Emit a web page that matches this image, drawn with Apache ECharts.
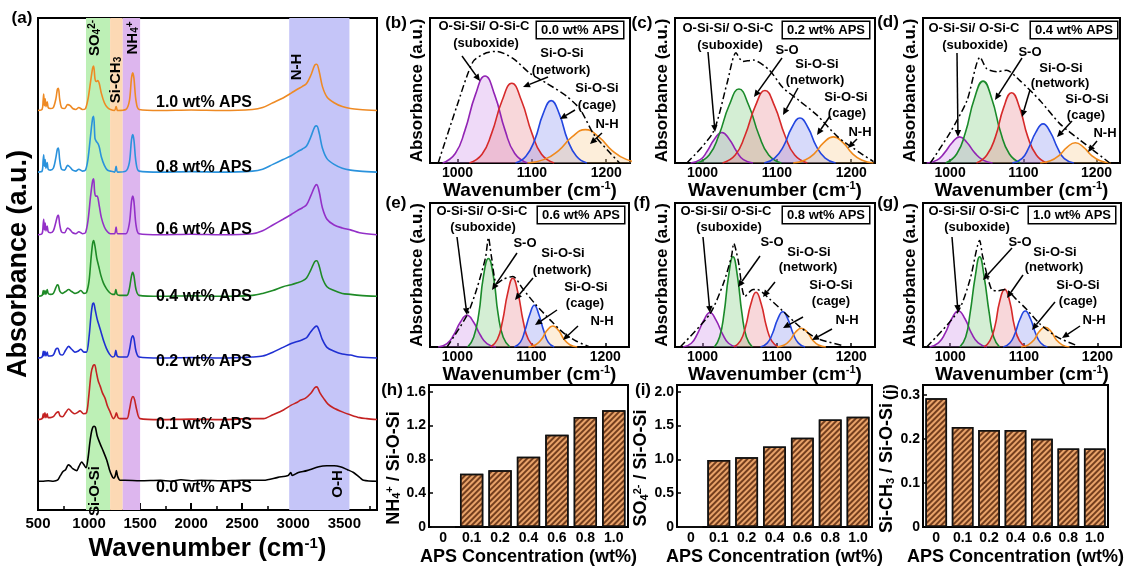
<!DOCTYPE html>
<html>
<head>
<meta charset="utf-8">
<title>FTIR APS</title>
<script src="https://cdn.jsdelivr.net/npm/echarts@6/dist/echarts.min.js"></script>
<style>
html, body { margin: 0; padding: 0; background: #fff; }
#main { width: 1126px; height: 567px; }
</style>
</head>
<body>
<div id="main"></div>
<script>
// ===== 数据 (a) FTIR 全谱, 每条为 [波数, 相对基线的吸光度] =====
var apsNames = ['0.0 wt% APS', '0.1 wt% APS', '0.2 wt% APS', '0.4 wt% APS', '0.6 wt% APS', '0.8 wt% APS', '1.0 wt% APS'];
var apsColors = ['#000000', '#c42222', '#1f2fd2', '#1e8a26', '#9330c8', '#2a92dc', '#ee8a24'];
var specOffset = [30, 94, 158, 222, 286, 351, 415]; // 堆叠偏移

var spec00 = [[500,0],[540,0],[600,0.5],[650,0],[690,1],[720,6],[745,10],[770,12],[797,17],[815,16],[840,13],[879,11],[900,15],[928,20],[950,17],[970,14],[990,24],[1010,42],[1030,54],[1050,57],[1062,56],[1080,47],[1108,39],[1140,31],[1173,22],[1200,12],[1222,6],[1240,3],[1255,5],[1268,11],[1280,5],[1304,1],[1350,1],[1500,0.5],[1700,1],[1800,0],[1900,1.5],[2000,0.5],[2100,1],[2300,0.5],[2500,1],[2650,1],[2709,1],[2850,4],[2950,6],[2975,9],[2990,6],[3050,9],[3133,11],[3250,15],[3329,16],[3400,16],[3460,15],[3530,12],[3590,9],[3650,4],[3688,1],[3820,0]];
var spec01 = [[500,0],[540,1],[552,6],[558,2],[568,7],[578,2],[590,6],[600,2],[620,2],[650,3],[680,7],[700,8],[715,4],[740,3],[770,7],[800,11],[830,8],[860,6],[880,7],[912,9],[945,6],[975,7],[995,22],[1020,48],[1040,56],[1055,57],[1070,50],[1090,40],[1108,35],[1130,28],[1157,22],[1180,14],[1206,8],[1238,1],[1255,3],[1268,7],[1285,2],[1304,1],[1370,1],[1395,10],[1415,21],[1430,24],[1445,21],[1467,10],[1500,1],[1700,0],[2000,0.5],[2300,0],[2600,1],[2709,1],[2800,5],[2904,10],[2980,15],[3040,18],[3068,20],[3117,22],[3170,27],[3210,33],[3231,34],[3260,28],[3297,22],[3340,16],[3395,12],[3480,8],[3558,5],[3650,2],[3721,1],[3820,0]];
var spec02 = [[500,0],[540,1],[552,7],[558,2],[568,7],[578,2],[590,6],[600,2],[620,2],[650,3],[675,9],[690,10],[700,9],[715,4],[740,3],[770,8],[800,12],[830,9],[860,6],[890,7],[920,9],[950,6],[975,6],[1000,22],[1020,45],[1035,56],[1045,57],[1060,50],[1080,40],[1100,33],[1120,26],[1145,17],[1170,10],[1200,4],[1230,1],[1250,2],[1262,8],[1275,2],[1300,1],[1370,1],[1395,8],[1415,20],[1428,23],[1440,20],[1460,7],[1490,1],[1700,0],[2000,0.5],[2300,0],[2600,1],[2700,2],[2800,6],[2900,11],[2980,15],[3040,17],[3090,19],[3130,21],[3170,27],[3210,32],[3230,33],[3255,28],[3285,19],[3330,11],[3400,7],[3480,4],[3560,3],[3650,1],[3820,0]];
var spec04 = [[500,0],[540,1],[552,6],[558,2],[568,6],[578,2],[590,7],[600,3],[620,2],[650,3],[675,9],[690,12],[700,11],[715,5],[740,3],[770,5],[800,7],[830,5],[860,3],[890,4],[920,6],[950,3],[975,4],[1000,16],[1020,40],[1035,55],[1045,58],[1058,52],[1075,40],[1095,31],[1115,22],[1140,14],[1170,8],[1200,4],[1230,2],[1250,2],[1262,7],[1275,2],[1300,1],[1370,1],[1395,8],[1415,21],[1428,25],[1440,21],[1460,7],[1490,1],[1700,0],[2000,0.5],[2300,0],[2600,1],[2700,3],[2800,6],[2900,10],[2980,12],[3040,14],[3090,16],[3130,19],[3170,27],[3210,36],[3230,37],[3255,31],[3285,19],[3330,10],[3400,6],[3480,3],[3560,2],[3650,1],[3820,0]];
var spec06 = [[500,0],[540,1],[550,10],[556,16],[562,5],[570,12],[578,4],[590,9],[600,3],[620,2],[650,4],[675,13],[690,19],[700,20],[712,11],[730,3],[760,2],[790,7],[815,5],[840,2],[870,1],[900,3],[935,1],[965,2],[990,15],[1015,40],[1035,56],[1045,58],[1055,44],[1068,40],[1080,40],[1100,30],[1120,18],[1150,8],[1180,3],[1210,1],[1250,1],[1265,8],[1280,1],[1360,1],[1395,12],[1415,34],[1428,40],[1440,34],[1460,10],[1490,1],[1700,0],[2000,0.5],[2300,0],[2600,1],[2700,4],[2800,10],[2900,16],[2980,21],[3040,25],[3090,28],[3130,31],[3170,40],[3210,50],[3230,52],[3255,44],[3285,28],[3330,16],[3400,10],[3480,7],[3560,5],[3650,2],[3820,0]];
var spec08 = [[500,0],[540,1],[550,12],[556,18],[562,6],[570,13],[578,4],[590,10],[600,3],[620,2],[650,4],[675,15],[690,24],[700,25],[712,13],[730,3],[760,2],[790,7],[815,5],[840,2],[870,1],[900,3],[935,1],[965,2],[990,14],[1015,38],[1035,56],[1045,58],[1058,35],[1070,32],[1085,30],[1100,26],[1120,16],[1150,7],[1180,2],[1210,1],[1250,0],[1265,6],[1280,0],[1360,1],[1395,10],[1415,33],[1428,39],[1440,33],[1460,10],[1490,1],[1700,0],[2000,0.5],[2300,0],[2600,1],[2700,3],[2800,8],[2900,13],[2980,17],[3040,21],[3090,24],[3130,27],[3170,36],[3210,47],[3230,48],[3255,40],[3285,25],[3330,14],[3400,8],[3480,4],[3560,2],[3650,1],[3820,0]];
var spec10 = [[500,0],[540,1],[550,10],[556,17],[562,5],[570,12],[578,4],[590,9],[600,3],[620,2],[650,3],[675,12],[690,22],[700,23],[712,12],[730,3],[760,2],[790,6],[815,5],[840,2],[870,1],[900,3],[935,1],[965,2],[990,12],[1015,30],[1035,44],[1045,46],[1058,33],[1070,30],[1085,31],[1100,28],[1120,18],[1150,8],[1180,3],[1210,1],[1250,0],[1265,4],[1280,0],[1360,1],[1395,10],[1415,33],[1428,39],[1440,33],[1460,10],[1490,1],[1700,0],[2000,0.5],[2300,0],[2600,1],[2700,3],[2800,8],[2900,13],[2980,18],[3040,22],[3090,25],[3130,28],[3170,36],[3210,47],[3230,48],[3255,40],[3285,25],[3330,14],[3400,8],[3480,4],[3560,2],[3650,1],[3820,0]];

// 特征吸收带 [起, 止]
var bandSO4 = [970, 1206];
var bandSiCH3 = [1206, 1330];
var bandNH4 = [1330, 1500];
var bandNH = [2960, 3550];

// ===== 数据 (b)-(g) 分峰拟合, [波数, 吸光度] =====
var bSuboxide = [[980,0],[997,0.066],[1010,0.225],[1024,0.47],[1037,0.60],[1050,0.47],[1064,0.225],[1077,0.066],[1094,0]];
var bNetwork = [[1016,0],[1033,0.061],[1046,0.206],[1060,0.431],[1073,0.55],[1086,0.431],[1100,0.206],[1113,0.061],[1130,0]];
var bCage = [[1078,0],[1092,0.047],[1104,0.161],[1115,0.337],[1126,0.43],[1137,0.337],[1148,0.161],[1160,0.047],[1174,0]];
var bNH = [[1094,0],[1117,0.025],[1136,0.086],[1154,0.18],[1172,0.23],[1190,0.18],[1208,0.086],[1227,0.025],[1250,0]];
var bEnvelope = [[974,0],[999,0.39],[1021,0.70],[1039,0.76],[1053,0.77],[1075,0.72],[1097,0.62],[1120,0.55],[1147,0.46],[1165,0.37],[1183,0.20],[1205,0.07],[1218,0]];

var cSuboxide = [[984,0],[997,0.023],[1006,0.079],[1016,0.164],[1026,0.21],[1036,0.164],[1046,0.079],[1055,0.023],[1068,0]];
var cSO = [[992,0],[1009,0.056],[1022,0.191],[1036,0.40],[1049,0.51],[1062,0.40],[1076,0.191],[1089,0.056],[1106,0]];
var cNetwork = [[1027,0],[1044,0.055],[1057,0.188],[1071,0.392],[1084,0.50],[1097,0.392],[1111,0.188],[1124,0.055],[1141,0]];
var cCage = [[1083,0],[1097,0.034],[1109,0.116],[1120,0.243],[1131,0.31],[1142,0.243],[1153,0.116],[1165,0.034],[1179,0]];
var cNH = [[1122,0],[1138,0.02],[1151,0.068],[1163,0.141],[1176,0.18],[1189,0.141],[1201,0.068],[1214,0.02],[1230,0]];
var cEnvelope = [[979,0],[1014,0.21],[1033,0.55],[1045,0.76],[1054,0.70],[1068,0.71],[1090,0.64],[1108,0.52],[1130,0.43],[1154,0.33],[1182,0.18],[1212,0.07],[1230,0.01]];

var dSuboxide = [[968,0],[982,0.02],[992,0.068],[1003,0.141],[1013,0.18],[1023,0.141],[1034,0.068],[1045,0.02],[1058,0]];
var dSO = [[994,0],[1009,0.062],[1021,0.212],[1033,0.442],[1045,0.565],[1057,0.442],[1069,0.212],[1081,0.062],[1096,0]];
var dNetwork = [[1036,0],[1050,0.053],[1062,0.182],[1073,0.38],[1084,0.485],[1095,0.38],[1106,0.182],[1118,0.053],[1132,0]];
var dCage = [[1085,0],[1098,0.03],[1107,0.101],[1117,0.211],[1127,0.27],[1137,0.211],[1147,0.101],[1156,0.03],[1169,0]];
var dNH = [[1123,0],[1137,0.015],[1149,0.053],[1160,0.11],[1171,0.14],[1182,0.11],[1193,0.053],[1205,0.015],[1219,0]];
var dEnvelope = [[973,0],[1000,0.21],[1023,0.43],[1041,0.73],[1050,0.65],[1064,0.63],[1077,0.64],[1095,0.57],[1123,0.43],[1150,0.27],[1177,0.16],[1200,0.07],[1218,0]];

var eSuboxide = [[974,0],[986,0.024],[995,0.083],[1004,0.172],[1013,0.22],[1022,0.172],[1031,0.083],[1040,0.024],[1052,0]];
var eSO = [[1014,0],[1022,0.068],[1029,0.231],[1035,0.482],[1042,0.615],[1049,0.482],[1055,0.231],[1062,0.068],[1071,0]];
var eNetwork = [[1045,0],[1054,0.052],[1061,0.179],[1068,0.373],[1075,0.477],[1082,0.373],[1089,0.179],[1096,0.052],[1105,0]];
var eCage = [[1077,0],[1085,0.032],[1091,0.109],[1098,0.227],[1104,0.29],[1110,0.227],[1117,0.109],[1123,0.032],[1131,0]];
var eNH = [[1096,0],[1106,0.016],[1114,0.055],[1121,0.114],[1129,0.146],[1137,0.114],[1144,0.055],[1152,0.016],[1162,0]];
var eEnvelope = [[986,0],[1013,0.22],[1026,0.40],[1038,0.62],[1042,0.76],[1046,0.63],[1053,0.44],[1062,0.47],[1075,0.49],[1089,0.40],[1105,0.30],[1125,0.19],[1143,0.10],[1161,0.04],[1179,0]];

var fSuboxide = [[974,0],[985,0.026],[993,0.09],[1002,0.188],[1010,0.24],[1018,0.188],[1027,0.09],[1035,0.026],[1046,0]];
var fSO = [[1016,0],[1023,0.069],[1029,0.235],[1035,0.491],[1041,0.627],[1047,0.491],[1053,0.235],[1059,0.069],[1067,0]];
var fNetwork = [[1042,0],[1051,0.042],[1058,0.143],[1065,0.298],[1072,0.38],[1079,0.298],[1086,0.143],[1093,0.042],[1102,0]];
var fCage = [[1078,0],[1087,0.027],[1094,0.092],[1101,0.192],[1108,0.245],[1115,0.192],[1122,0.092],[1129,0.027],[1138,0]];
var fNH = [[1100,0],[1110,0.014],[1118,0.049],[1125,0.102],[1133,0.13],[1141,0.102],[1148,0.049],[1156,0.014],[1166,0]];
var fEnvelope = [[970,0],[1010,0.23],[1028,0.44],[1039,0.63],[1042,0.72],[1048,0.60],[1057,0.35],[1068,0.40],[1073,0.40],[1091,0.33],[1108,0.25],[1131,0.14],[1154,0.06],[1189,0.01]];

var gSuboxide = [[972,0],[984,0.028],[993,0.094],[1002,0.196],[1011,0.25],[1020,0.196],[1029,0.094],[1038,0.028],[1050,0]];
var gSO = [[1013,0],[1021,0.069],[1027,0.235],[1034,0.491],[1040,0.627],[1046,0.491],[1053,0.235],[1059,0.069],[1067,0]];
var gNetwork = [[1046,0],[1054,0.044],[1061,0.15],[1067,0.313],[1074,0.40],[1081,0.313],[1087,0.15],[1094,0.044],[1103,0]];
var gCage = [[1072,0],[1081,0.028],[1088,0.094],[1095,0.196],[1102,0.25],[1109,0.196],[1116,0.094],[1123,0.028],[1132,0]];
var gNH = [[1096,0],[1106,0.015],[1114,0.051],[1121,0.107],[1129,0.137],[1137,0.107],[1144,0.051],[1152,0.015],[1162,0]];
var gEnvelope = [[968,0],[1011,0.25],[1027,0.47],[1040,0.74],[1044,0.63],[1056,0.40],[1065,0.39],[1074,0.40],[1090,0.33],[1104,0.26],[1122,0.16],[1145,0.07],[1172,0.01]];

// ===== 数据 (h)-(j) 峰面积比 =====
var apsConc = ['0', '0.1', '0.2', '0.4', '0.6', '0.8', '1.0'];
var ratioNH4 = [0, 0.63, 0.67, 0.83, 1.09, 1.30, 1.38];
var ratioSO4 = [0, 0.99, 1.03, 1.19, 1.32, 1.59, 1.63];
var ratioSiCH3 = [0.292, 0.227, 0.22, 0.22, 0.20, 0.178, 0.178];
var ticksNH4 = [0, 0.4, 0.8, 1.2, 1.6];
var ticksSO4 = [0, 0.5, 1.0, 1.5, 2.0];
var ticksSiCH3 = [0, 0.1, 0.2, 0.3];
var ticksWave = [1000, 1100, 1200];

var FONT = '"Liberation Sans", Arial, sans-serif';
var peakStyle = {
	suboxide: ['#9224b4', 'rgba(206,140,232,0.45)'],
	so: ['#1a8a2a', 'rgba(120,200,120,0.45)'],
	network: ['#d62a2a', 'rgba(232,130,140,0.45)'],
	cage: ['#2346e0', 'rgba(130,140,240,0.45)'],
	nh: ['#f08a1c', 'rgba(250,200,140,0.45)']
};

var FtirFigure = {
	chart: null,
	series: [],
	graphic: [],
	grids: [
		{ left: 38, top: 18, width: 339, height: 511 },   // a
		{ left: 430, top: 18, width: 200, height: 145 },  // b
		{ left: 675, top: 18, width: 200, height: 145 },  // c
		{ left: 923, top: 18, width: 197, height: 145 },  // d
		{ left: 430, top: 203, width: 199, height: 144 }, // e
		{ left: 675, top: 203, width: 200, height: 144 }, // f
		{ left: 923, top: 203, width: 198, height: 144 }, // g
		{ left: 429, top: 385, width: 199, height: 145 }, // h
		{ left: 677, top: 385, width: 195, height: 145 }, // i
		{ left: 923, top: 385, width: 197, height: 145 }  // j
	],

	init: function() {
		this.chart = echarts.init(document.getElementById('main'), null, { renderer: 'canvas' });
		this.buildSpectra();
		this.buildFits();
		this.buildBars();
		this.buildLabels();
		this.chart.setOption({
			animation: false,
			backgroundColor: '#fff',
			textStyle: { fontFamily: FONT },
			grid: this.grids.map(function(g) {
				return { left: g.left, top: g.top, width: g.width, height: g.height, show: true, borderColor: '#000', borderWidth: 2, backgroundColor: 'transparent' };
			}),
			xAxis: this.xAxes(),
			yAxis: this.yAxes(),
			series: this.series,
			graphic: { elements: this.graphic }
		});
	},

	//x轴
	xAxes: function() {
		var axes = [];
		var plain = function(v) { return String(v); };
		axes.push({
			gridIndex: 0, type: 'value', min: 500, max: 3820, interval: 500,
			name: '{t|Wavenumber (cm}{sup|-1}{t|)}', nameLocation: 'middle', nameGap: 17,
			nameTextStyle: { fontSize: 26, fontWeight: 'bold', color: '#000', rich: this.richSize(26, 15) },
			axisLine: { lineStyle: { color: '#000', width: 2 } },
			axisTick: { inside: true, length: 7, lineStyle: { width: 2 } },
			minorTick: { show: true, splitNumber: 2, length: 4, lineStyle: { color: '#000', width: 1.5 } },
			axisLabel: { fontSize: 15, fontWeight: 'bold', color: '#000', margin: 6, showMaxLabel: false, formatter: plain },
			splitLine: { show: false }
		});
		for (var i = 1; i <= 6; i++) {
			axes.push({
				gridIndex: i, type: 'value', min: 963, max: 1232,
				name: '{t|Wavenumber (cm}{sup|-1}{t|)}', nameLocation: 'middle', nameGap: 16,
				nameTextStyle: { fontSize: 19, fontWeight: 'bold', color: '#000', rich: this.richSize(19, 11) },
				axisLine: { lineStyle: { color: '#000', width: 2 } },
				axisTick: { inside: true, length: 4, customValues: ticksWave, lineStyle: { width: 1.5 } },
				axisLabel: { fontSize: 14, fontWeight: 'bold', color: '#000', margin: 3, customValues: ticksWave, formatter: plain },
				splitLine: { show: false }
			});
		}
		for (var j = 7; j <= 9; j++) {
			axes.push({
				gridIndex: j, type: 'category', data: apsConc,
				name: 'APS Concentration (wt%)', nameLocation: 'middle', nameGap: 21,
				nameTextStyle: { fontSize: 18, fontWeight: 'bold', color: '#000' },
				axisLine: { lineStyle: { color: '#000', width: 2 } },
				axisTick: { show: false },
				axisLabel: { fontSize: 14, fontWeight: 'bold', color: '#000', margin: 4 },
				splitLine: { show: false }
			});
		}
		return axes;
	},

	//y轴
	yAxes: function() {
		var axes = [];
		axes.push({
			gridIndex: 0, type: 'value', min: 0, max: 511,
			name: 'Absorbance (a.u.)', nameLocation: 'middle', nameGap: 6, nameRotate: 90,
			nameTextStyle: { fontSize: 27, fontWeight: 'bold', color: '#000' },
			axisLine: { show: false }, axisTick: { show: false }, axisLabel: { show: false }, splitLine: { show: false }
		});
		for (var i = 1; i <= 6; i++) {
			axes.push({
				gridIndex: i, type: 'value', min: 0, max: 1,
				name: 'Absorbance (a.u.)', nameLocation: 'middle', nameGap: 4, nameRotate: 90,
				nameTextStyle: { fontSize: 17, fontWeight: 'bold', color: '#000' },
				axisLine: { show: false }, axisTick: { show: false }, axisLabel: { show: false }, splitLine: { show: false }
			});
		}
		var barY = [
			{ max: 1.68, ticks: ticksNH4, name: '{t|NH}{sub|4}{sup|+}{t| / Si-O-Si}', gap: 25 },
			{ max: 2.1, ticks: ticksSO4, name: '{t|SO}{sub|4}{sup|2-}{t| / Si-O-Si}', gap: 27 },
			{ max: 0.322, ticks: ticksSiCH3, name: '{t|Si-CH}{sub|3}{t| / Si-O-Si}', gap: 27 }
		];
		for (var k = 0; k < 3; k++) {
			axes.push({
				gridIndex: 7 + k, type: 'value', min: 0, max: barY[k].max,
				name: barY[k].name, nameLocation: 'middle', nameGap: barY[k].gap, nameRotate: 90,
				nameTextStyle: { fontSize: 18, fontWeight: 'bold', color: '#000', padding: [0, 24, 0, 0], rich: this.richSize(18, 11) },
				axisLine: { show: false },
				axisTick: { show: true, inside: true, length: 4, customValues: barY[k].ticks, lineStyle: { color: '#000', width: 1.5 } },
				axisLabel: {
					fontSize: 14, fontWeight: 'bold', color: '#000', margin: 3, customValues: barY[k].ticks,
					formatter: function(v) { return v === 0 ? '0' : v.toFixed(1); }
				},
				splitLine: { show: false }
			});
		}
		return axes;
	},

	richSize: function(big, small) {
		return {
			t: { fontSize: big, fontWeight: 'bold', fontFamily: FONT, color: '#000' },
			sub: { fontSize: small, fontWeight: 'bold', fontFamily: FONT, color: '#000', verticalAlign: 'bottom', lineHeight: small },
			sup: { fontSize: small, fontWeight: 'bold', fontFamily: FONT, color: '#000', verticalAlign: 'top', lineHeight: small }
		};
	},

	//(a) 全谱
	buildSpectra: function() {
		var self = this;
		// 特征带底色
		this.series.push({
			type: 'line', xAxisIndex: 0, yAxisIndex: 0, data: [], z: 1, silent: true,
			markArea: {
				silent: true,
				data: [
					[{ xAxis: bandSO4[0], itemStyle: { color: '#bdf0b6', opacity: 1 } }, { xAxis: bandSO4[1] }],
					[{ xAxis: bandSiCH3[0], itemStyle: { color: '#fcd9b4', opacity: 1 } }, { xAxis: bandSiCH3[1] }],
					[{ xAxis: bandNH4[0], itemStyle: { color: '#ddb6ee', opacity: 1 } }, { xAxis: bandNH4[1] }],
					[{ xAxis: bandNH[0], itemStyle: { color: '#c5c5f8', opacity: 1 } }, { xAxis: bandNH[1] }]
				]
			}
		});
		var specs = [spec00, spec01, spec02, spec04, spec06, spec08, spec10];
		specs.forEach(function(spec, i) {
			self.series.push({
				name: apsNames[i], type: 'line', xAxisIndex: 0, yAxisIndex: 0, z: 3,
				showSymbol: false, smooth: 0.3,
				lineStyle: { color: apsColors[i], width: 1.6 },
				data: spec.map(function(p) { return [p[0], p[1] + specOffset[i]]; })
			});
		});
	},

	//(b)-(g) 分峰
	buildFits: function() {
		var self = this;
		var panels = [
			[['suboxide', bSuboxide], ['network', bNetwork], ['cage', bCage], ['nh', bNH], bEnvelope],
			[['suboxide', cSuboxide], ['so', cSO], ['network', cNetwork], ['cage', cCage], ['nh', cNH], cEnvelope],
			[['suboxide', dSuboxide], ['so', dSO], ['network', dNetwork], ['cage', dCage], ['nh', dNH], dEnvelope],
			[['suboxide', eSuboxide], ['so', eSO], ['network', eNetwork], ['cage', eCage], ['nh', eNH], eEnvelope],
			[['suboxide', fSuboxide], ['so', fSO], ['network', fNetwork], ['cage', fCage], ['nh', fNH], fEnvelope],
			[['suboxide', gSuboxide], ['so', gSO], ['network', gNetwork], ['cage', gCage], ['nh', gNH], gEnvelope]
		];
		panels.forEach(function(list, p) {
			var idx = p + 1;
			list.forEach(function(item) {
				if (item.length === 2 && typeof item[0] === 'string') {
					var st = peakStyle[item[0]];
					self.series.push({
						type: 'line', xAxisIndex: idx, yAxisIndex: idx, showSymbol: false, smooth: 0.5,
						lineStyle: { color: st[0], width: 1.6 },
						areaStyle: { color: st[1] },
						data: item[1]
					});
				} else {
					self.series.push({
						type: 'line', xAxisIndex: idx, yAxisIndex: idx, showSymbol: false, smooth: 0.25, z: 4,
						lineStyle: { color: '#000', width: 1.5, type: [7, 3, 2, 3] },
						data: item
					});
				}
			});
		});
	},

	//(h)-(j) 柱状图
	buildBars: function() {
		var self = this;
		[ratioNH4, ratioSO4, ratioSiCH3].forEach(function(vals, k) {
			self.series.push({
				type: 'bar', xAxisIndex: 7 + k, yAxisIndex: 7 + k, barWidth: '82%',
				itemStyle: {
					color: '#e9a36a', borderColor: '#111', borderWidth: 1.5,
					decal: { symbol: 'rect', symbolSize: 1, color: 'rgba(95,45,15,0.85)', dashArrayX: [1, 0], dashArrayY: [2, 2], rotation: -Math.PI / 4 }
				},
				data: vals
			});
		});
	},

	text: function(str, x, y, size, opt) {
		var el = {
			type: 'text', x: x, y: y, z: 100,
			style: { text: str, fontSize: size, fontWeight: 'bold', fontFamily: FONT, fill: '#000', align: 'center', verticalAlign: 'middle' }
		};
		if (opt) {
			for (var k in opt) {
				if (k === 'style') { for (var s in opt.style) el.style[s] = opt.style[s]; }
				else el[k] = opt[k];
			}
		}
		return el;
	},

	arrow: function(a) {
		var x1 = a[0], y1 = a[1], x2 = a[2], y2 = a[3];
		var ang = Math.atan2(y2 - y1, x2 - x1), L = 7, W = 3.2;
		var bx = x2 - L * Math.cos(ang), by = y2 - L * Math.sin(ang);
		var px = -Math.sin(ang) * W, py = Math.cos(ang) * W;
		return [
			{ type: 'line', z: 100, shape: { x1: x1, y1: y1, x2: bx, y2: by }, style: { stroke: '#000', lineWidth: 1.5 } },
			{ type: 'polygon', z: 100, shape: { points: [[x2, y2], [bx + px, by + py], [bx - px, by - py]] }, style: { fill: '#000' } }
		];
	},

	//文字, 箭头
	buildLabels: function() {
		var self = this, g = this.graphic;
		// 面板编号
		[['(a)', 22, 18], ['(b)', 396, 23], ['(c)', 642, 23], ['(d)', 888, 22], ['(e)', 396, 203], ['(f)', 642, 203],
			['(g)', 888, 203], ['(h)', 392, 390], ['(i)', 643, 390]].forEach(function(t) {
			g.push(self.text(t[0], t[1], t[2], 17));
		});
		g.push(self.text('(j)', 890, 392, 17, { rotation: Math.PI / 2 }));

		// (a) 样品名
		var labelY = [488, 425, 362, 297, 230, 168, 103];
		apsNames.forEach(function(n, i) { g.push(self.text(n, 204, labelY[i], 16)); });

		// (a) 竖排基团
		var rot = { rotation: Math.PI / 2 };
		var rich15 = self.richSize(15, 10);
		g.push(self.text('{t|SO}{sub|4}{sup|2-}', 95, 38, 15, { rotation: Math.PI / 2, style: { rich: rich15 } }));
		g.push(self.text('{t|Si-CH}{sub|3}', 116, 80, 15, { rotation: Math.PI / 2, style: { rich: rich15 } }));
		g.push(self.text('{t|NH}{sub|4}{sup|+}', 133, 38, 15, { rotation: Math.PI / 2, style: { rich: rich15 } }));
		g.push(self.text('N-H', 297, 67, 15, rot));
		g.push(self.text('O-H', 338, 484, 15, rot));
		g.push(self.text('Si-O-Si', 95, 491, 15, rot));

		// (b)-(g) 峰标注: [文字, x, y]
		var notes = [
			{ box: ['0.0 wt% APS', 580, 30], txt: [['O-Si-Si/ O-Si-C', 484, 26], ['(suboxide)', 486, 43], ['Si-O-Si', 562, 53], ['(network)', 561, 70], ['Si-O-Si', 597, 88], ['(cage)', 597, 105], ['N-H', 607, 124]],
				arr: [[462, 56, 480, 81], [548, 77, 523, 87], [575, 110, 560, 119], [602, 133, 590, 144]] },
			{ box: ['0.2 wt% APS', 826, 30], txt: [['O-Si-Si/ O-Si-C', 728, 28], ['(suboxide)', 730, 45], ['S-O', 787, 50], ['Si-O-Si', 817, 64], ['(network)', 815, 80], ['Si-O-Si', 846, 97], ['(cage)', 847, 113], ['N-H', 860, 132]],
				arr: [[708, 52, 715, 132], [782, 58, 754, 97], [798, 88, 783, 115], [830, 116, 817, 135], [857, 139, 848, 148]] },
			{ box: ['0.4 wt% APS', 1074, 30], txt: [['O-Si-Si/ O-Si-C', 974, 28], ['(suboxide)', 975, 45], ['S-O', 1030, 52], ['Si-O-Si', 1061, 68], ['(network)', 1060, 83], ['Si-O-Si', 1087, 99], ['(cage)', 1086, 115], ['N-H', 1105, 133]],
				arr: [[957, 53, 958, 137], [1022, 58, 995, 100], [1030, 90, 1022, 117], [1072, 121, 1057, 137], [1097, 141, 1088, 152]] },
			{ box: ['0.6 wt% APS', 581, 215], txt: [['O-Si-Si/ O-Si-C', 482, 211], ['(suboxide)', 483, 227], ['S-O', 525, 243], ['Si-O-Si', 563, 253], ['(network)', 562, 270], ['Si-O-Si', 586, 287], ['(cage)', 585, 303], ['N-H', 602, 321]],
				arr: [[457, 237, 467, 315], [517, 253, 492, 290], [533, 278, 515, 300], [557, 310, 535, 325], [578, 326, 563, 340]] },
			{ box: ['0.8 wt% APS', 826, 215], txt: [['O-Si-Si/ O-Si-C', 726, 211], ['(suboxide)', 729, 227], ['S-O', 772, 242], ['Si-O-Si', 809, 252], ['(network)', 808, 267], ['Si-O-Si', 831, 285], ['(cage)', 831, 301], ['N-H', 847, 320]],
				arr: [[703, 237, 710, 313], [760, 256, 738, 287], [775, 282, 763, 297], [803, 317, 783, 328], [832, 329, 812, 340]] },
			{ box: ['1.0 wt% APS', 1072, 215], txt: [['O-Si-Si/ O-Si-C', 974, 211], ['(suboxide)', 977, 227], ['S-O', 1020, 242], ['Si-O-Si', 1055, 252], ['(network)', 1054, 267], ['Si-O-Si', 1078, 285], ['(cage)', 1078, 301], ['N-H', 1094, 320]],
				arr: [[952, 237, 958, 312], [1012, 248, 983, 280], [1023, 275, 1007, 298], [1055, 302, 1032, 330], [1080, 326, 1062, 338]] }
		];
		notes.forEach(function(n) {
			g.push(self.text(n.box[0], n.box[1], n.box[2], 13, {
				style: { borderColor: '#000', borderWidth: 1.5, padding: [2, 4, 1, 4], backgroundColor: '#fff' }
			}));
			n.txt.forEach(function(t) { g.push(self.text(t[0], t[1], t[2], 13)); });
			n.arr.forEach(function(a) { self.arrow(a).forEach(function(e) { g.push(e); }); });
		});
	}
};

FtirFigure.init();
</script>
</body>
</html>
